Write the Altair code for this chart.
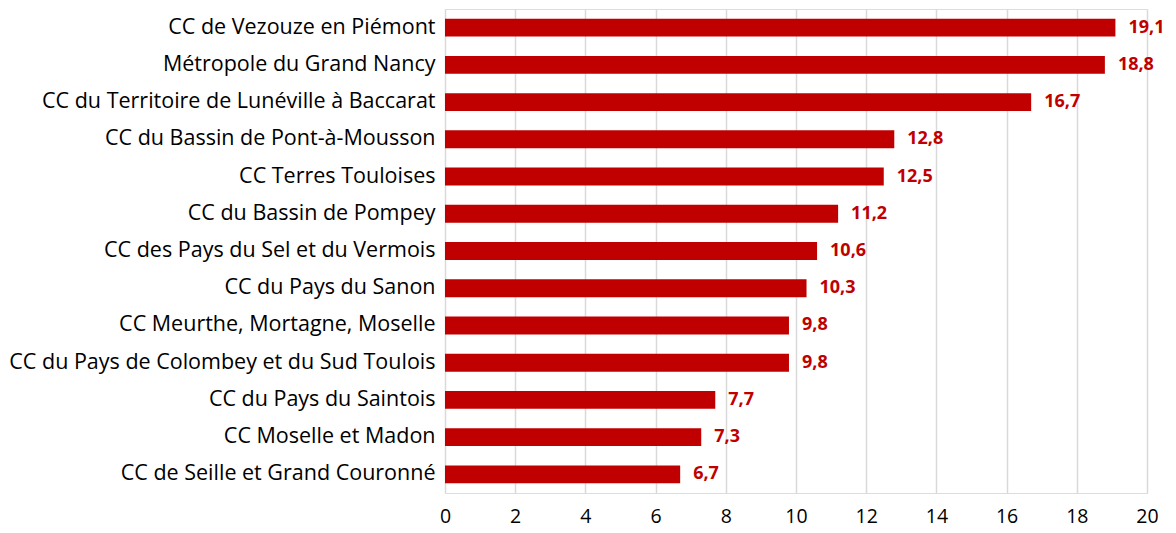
import altair as alt
import pandas as pd

categories = [
    "CC de Vezouze en Piémont",
    "Métropole du Grand Nancy",
    "CC du Territoire de Lunéville à Baccarat",
    "CC du Bassin de Pont-à-Mousson",
    "CC Terres Touloises",
    "CC du Bassin de Pompey",
    "CC des Pays du Sel et du Vermois",
    "CC du Pays du Sanon",
    "CC Meurthe, Mortagne, Moselle",
    "CC du Pays de Colombey et du Sud Toulois",
    "CC du Pays du Saintois",
    "CC Moselle et Madon",
    "CC de Seille et Grand Couronné",
]
values = [19.1, 18.8, 16.7, 12.8, 12.5, 11.2, 10.6, 10.3, 9.8, 9.8, 7.7, 7.3, 6.7]
x_ticks = [0, 2, 4, 6, 8, 10, 12, 14, 16, 18, 20]

df = pd.DataFrame({
    "cat": categories,
    "val": values,
    "lab": [f"{v:.1f}".replace(".", ",") for v in values],
})

FONT = "Open Sans"
RED = "#C00000"

y_enc = alt.Y("cat:N", sort=categories, title=None,
              scale=alt.Scale(paddingInner=0.52, paddingOuter=0.26),
              axis=alt.Axis(domain=False, ticks=False, labelPadding=10,
                            labelFontSize=21.5, labelColor="#000000",
                            labelFont=FONT, labelLimit=600))
x_enc = alt.X("val:Q", title=None,
              scale=alt.Scale(domain=[0, 20], nice=False),
              axis=alt.Axis(values=x_ticks, domain=False, ticks=False,
                            grid=True, gridColor="#d9d9d9", gridWidth=1.5,
                            labelFlush=False, labelPadding=14,
                            labelFontSize=19.5, labelColor="#000000",
                            labelFont=FONT))

bars = alt.Chart(df).mark_bar(color=RED).encode(x=x_enc, y=y_enc)
text = alt.Chart(df).mark_text(align="left", baseline="middle", dx=13,
                               fontSize=18, fontWeight="bold", color=RED,
                               font=FONT).encode(
    x=alt.X("val:Q"), y=alt.Y("cat:N", sort=categories), text="lab:N")

chart = (bars + text).properties(
    width=702, height=484,
    autosize=alt.AutoSizeParams(type="none"),
    padding={"left": 437, "top": 1, "right": 21, "bottom": 38},
).configure_view(stroke=None).configure(background="white")

chart.save("out.html", embed_options={"renderer": "svg", "actions": False})
